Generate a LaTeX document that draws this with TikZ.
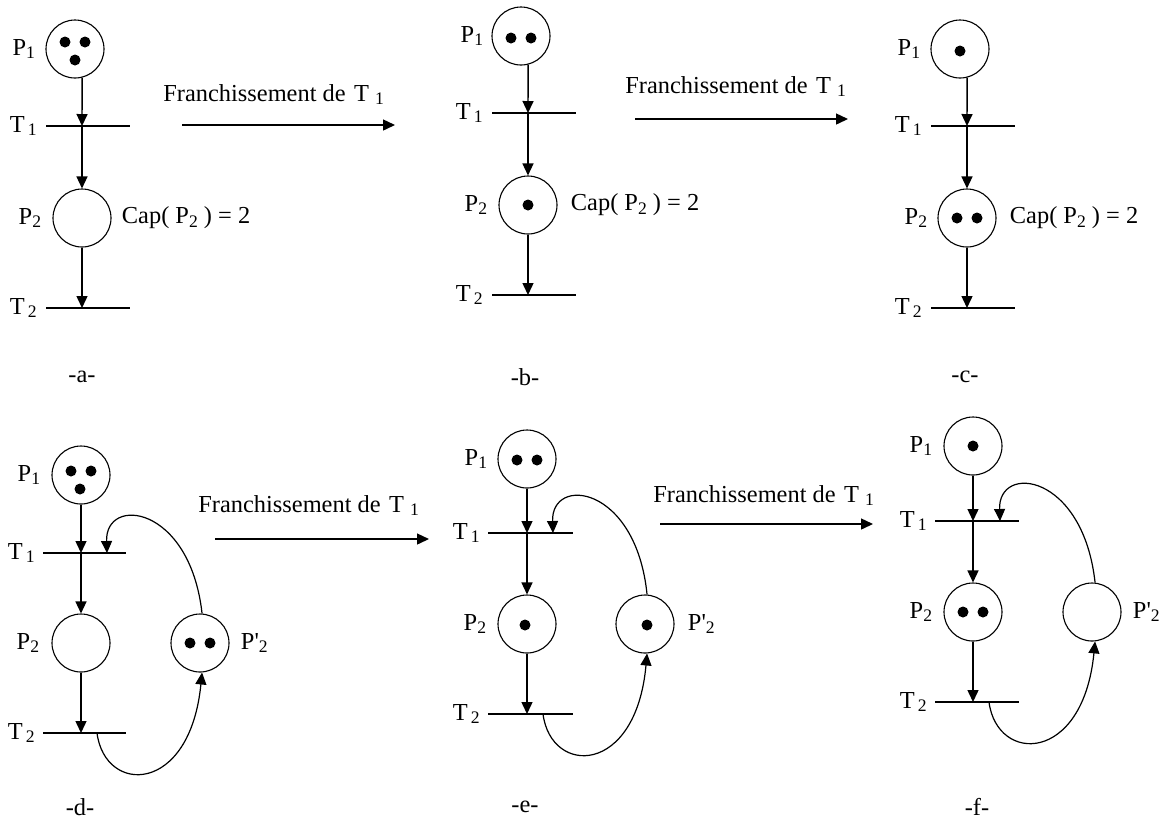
\documentclass[tikz,border=0pt]{standalone}
\usepackage{fontspec}
\setmainfont{Liberation Serif}
\usetikzlibrary{arrows.meta}
\newcommand\sub[1]{\raisebox{-1.8pt}{\fontsize{8.8}{9}\selectfont #1}}
\newcommand\Fire{Franchissement de\hspace{0.35em}T\hspace{0.25em}\sub{1}}
\tikzset{
  place/.style={circle, draw, line width=0.55pt, minimum size=29pt, inner sep=0pt},
  tok/.style={circle, fill, inner sep=0pt, minimum size=5.5pt},
  arr/.style={line width=0.7pt, -{Triangle[length=6pt,width=5.5pt]}},
  curvearr/.style={line width=0.6pt, -{Triangle[length=6pt,width=5.5pt]}},
  bar/.style={line width=0.7pt},
  lbl/.style={inner sep=0pt},
}
\begin{document}
\begin{tikzpicture}[x=0.5pt,y=-0.5pt,font=\fontsize{12.2}{14}\selectfont]
\useasboundingbox (0,0) rectangle (1169,827);

% ---------- panel a ----------
\begin{scope}[shift={(82,126)}]
  \coordinate (aT1) at (0,0);
  \coordinate (aT2) at (0,182);
  \node[place] (aP1) at (-7,-77) {};
  \node[place] (aP2) at (0,92) {};
  \node[tok] (aP1k1) at (-17,-84) {};
  \node[tok] (aP1k2) at (3,-84) {};
  \node[tok] (aP1k3) at (-7,-66) {};
  \draw[bar] (aT1) ++(-36,0) -- ++(84,0);
  \draw[bar] (aT2) ++(-36,0) -- ++(84,0);
  \draw[arr] (aP1.-76) -- (aT1);
  \draw[arr] (aT1) -- (aP2);
  \draw[arr] (aP2) -- (aT2);
  \node[lbl,anchor=east] (aP1l) at ([xshift=-5pt]aP1.west) {P\sub{1}};
  \node[lbl,anchor=east] (aP2l) at ([xshift=-5.5pt]aP2.west) {P\sub{2}};
  \node[lbl,anchor=base east] (aT1l) at (-45,6) {T\hspace{0.12em}\sub{1}};
  \node[lbl,anchor=base east] (aT2l) at (-45,188) {T\hspace{0.12em}\sub{2}};
  \node[lbl,anchor=west] (acap) at ([xshift=5pt]aP2.east) {Cap( P\sub{2} ) = 2};
\end{scope}
\node (alab) at (82,377) {-a-};

% ---------- panel b ----------
\begin{scope}[shift={(528,113)}]
  \coordinate (bT1) at (0,0);
  \coordinate (bT2) at (0,182);
  \node[place] (bP1) at (-7,-77) {};
  \node[place] (bP2) at (0,92) {};
  \node[tok] (bP1k1) at (-17,-75) {};
  \node[tok] (bP1k2) at (3,-75) {};
  \node[tok] (bP2k1) at (0,92) {};
  \draw[bar] (bT1) ++(-36,0) -- ++(84,0);
  \draw[bar] (bT2) ++(-36,0) -- ++(84,0);
  \draw[arr] (bP1.-76) -- (bT1);
  \draw[arr] (bT1) -- (bP2);
  \draw[arr] (bP2) -- (bT2);
  \node[lbl,anchor=east] (bP1l) at ([xshift=-4pt]bP1.west) {P\sub{1}};
  \node[lbl,anchor=east] (bP2l) at ([xshift=-5.5pt]bP2.west) {P\sub{2}};
  \node[lbl,anchor=base east] (bT1l) at (-45,6) {T\hspace{0.12em}\sub{1}};
  \node[lbl,anchor=base east] (bT2l) at (-45,188) {T\hspace{0.12em}\sub{2}};
  \node[lbl,anchor=west] (bcap) at ([xshift=6.5pt]bP2.east) {Cap( P\sub{2} ) = 2};
\end{scope}
\node (blab) at (525,377) {-b-};

% ---------- panel c ----------
\begin{scope}[shift={(967,126)}]
  \coordinate (cT1) at (0,0);
  \coordinate (cT2) at (0,182);
  \node[place] (cP1) at (-7,-77) {};
  \node[place] (cP2) at (0,92) {};
  \node[tok] (cP1k1) at (-7,-75) {};
  \node[tok] (cP2k1) at (-10,92) {};
  \node[tok] (cP2k2) at (10,92) {};
  \draw[bar] (cT1) ++(-36,0) -- ++(84,0);
  \draw[bar] (cT2) ++(-36,0) -- ++(84,0);
  \draw[arr] (cP1.-76) -- (cT1);
  \draw[arr] (cT1) -- (cP2);
  \draw[arr] (cP2) -- (cT2);
  \node[lbl,anchor=east] (cP1l) at ([xshift=-5pt]cP1.west) {P\sub{1}};
  \node[lbl,anchor=east] (cP2l) at ([xshift=-5pt]cP2.west) {P\sub{2}};
  \node[lbl,anchor=base east] (cT1l) at (-45,6) {T\hspace{0.12em}\sub{1}};
  \node[lbl,anchor=base east] (cT2l) at (-45,188) {T\hspace{0.12em}\sub{2}};
  \node[lbl,anchor=west] (ccap) at ([xshift=6.5pt]cP2.east) {Cap( P\sub{2} ) = 2};
\end{scope}
\node (clab) at (965,377) {-c-};

% ---------- panel d ----------
\begin{scope}[shift={(81,553)}]
  \coordinate (dT1) at (0,0);
  \coordinate (dT2) at (0,180);
  \coordinate (dT1b) at (26,0);
  \coordinate (dT2b) at (16,180);
  \node[place] (dP1) at (0,-78) {};
  \node[place] (dP2) at (0,90) {};
  \node[place] (dPP) at (119,90) {};
  \node[tok] (dP1k1) at (-10,-82) {};
  \node[tok] (dP1k2) at (10,-82) {};
  \node[tok] (dP1k3) at (-1,-64) {};
  \node[tok] (dPPk1) at (109,90) {};
  \node[tok] (dPPk2) at (129,90) {};
  \draw[bar] (dT1) ++(-38,0) -- ++(83,0);
  \draw[bar] (dT2) ++(-38,0) -- ++(83,0);
  \draw[arr] (dP1) -- (dT1);
  \draw[arr] (dT1) -- (dP2);
  \draw[arr] (dP2) -- (dT2);
  \draw[curvearr] (dT2b) .. controls (24,242) and (109,242) .. (dPP.-86);
  \draw[curvearr] (dPP.86) .. controls (109,-48) and (24,-58) .. (dT1b);
  \node[lbl,anchor=east] (dP1l) at ([xshift=-5.5pt]dP1.west) {P\sub{1}};
  \node[lbl,anchor=east] (dP2l) at ([xshift=-6pt]dP2.west) {P\sub{2}};
  \node[lbl,anchor=west] (dPPl) at ([xshift=5.5pt]dPP.east) {P\textquotesingle\sub{2}};
  \node[lbl,anchor=base east] (dT1l) at (-46,6) {T\hspace{0.12em}\sub{1}};
  \node[lbl,anchor=base east] (dT2l) at (-46,186) {T\hspace{0.12em}\sub{2}};
\end{scope}
\node (dlab) at (80,807) {-d-};

% ---------- panel e ----------
\begin{scope}[shift={(527,533)}]
  \coordinate (eT1) at (0,0);
  \coordinate (eT2) at (0,181);
  \coordinate (eT1b) at (26,0);
  \coordinate (eT2b) at (16,181);
  \node[place] (eP1) at (0,-74) {};
  \node[place] (eP2) at (0,91) {};
  \node[place] (ePP) at (118,91) {};
  \node[tok] (eP1k1) at (-10,-73) {};
  \node[tok] (eP1k2) at (10,-73) {};
  \node[tok] (eP2k1) at (-2,92) {};
  \node[tok] (ePPk1) at (120,92) {};
  \draw[bar] (eT1) ++(-39,0) -- ++(85,0);
  \draw[bar] (eT2) ++(-39,0) -- ++(85,0);
  \draw[arr] (eP1) -- (eT1);
  \draw[arr] (eT1) -- (eP2);
  \draw[arr] (eP2) -- (eT2);
  \draw[curvearr] (eT2b) .. controls (24,243) and (109,243) .. (ePP.-86);
  \draw[curvearr] (ePP.86) .. controls (109,-48) and (24,-58) .. (eT1b);
  \node[lbl,anchor=east] (eP1l) at ([xshift=-5pt]eP1.west) {P\sub{1}};
  \node[lbl,anchor=east] (eP2l) at ([xshift=-5.5pt]eP2.west) {P\sub{2}};
  \node[lbl,anchor=west] (ePPl) at ([xshift=6.5pt]ePP.east) {P\textquotesingle\sub{2}};
  \node[lbl,anchor=base east] (eT1l) at (-47,6) {T\hspace{0.12em}\sub{1}};
  \node[lbl,anchor=base east] (eT2l) at (-47,187) {T\hspace{0.12em}\sub{2}};
\end{scope}
\node (elab) at (525,807) {-e-};

% ---------- panel f ----------
\begin{scope}[shift={(973,521)}]
  \coordinate (fT1) at (0,0);
  \coordinate (fT2) at (0,181);
  \coordinate (fT1b) at (27,0);
  \coordinate (fT2b) at (16,181);
  \node[place] (fP1) at (0,-75) {};
  \node[place] (fP2) at (0,91) {};
  \node[place] (fPP) at (119,91) {};
  \node[tok] (fP1k1) at (0,-75) {};
  \node[tok] (fP2k1) at (-10,91) {};
  \node[tok] (fP2k2) at (10,91) {};
  \draw[bar] (fT1) ++(-38,0) -- ++(84,0);
  \draw[bar] (fT2) ++(-38,0) -- ++(84,0);
  \draw[arr] (fP1) -- (fT1);
  \draw[arr] (fT1) -- (fP2);
  \draw[arr] (fP2) -- (fT2);
  \draw[curvearr] (fT2b) .. controls (24,243) and (110,243) .. (fPP.-84);
  \draw[curvearr] (fPP.84) .. controls (110,-48) and (25,-58) .. (fT1b);
  \node[lbl,anchor=east] (fP1l) at ([xshift=-5.5pt]fP1.west) {P\sub{1}};
  \node[lbl,anchor=east] (fP2l) at ([xshift=-5.5pt]fP2.west) {P\sub{2}};
  \node[lbl,anchor=west] (fPPl) at ([xshift=5.5pt]fPP.east) {P\textquotesingle\sub{2}};
  \node[lbl,anchor=base east] (fT1l) at (-46,6) {T\hspace{0.12em}\sub{1}};
  \node[lbl,anchor=base east] (fT2l) at (-46,187) {T\hspace{0.12em}\sub{2}};
\end{scope}
\node (flab) at (977,807) {-f-};

% ---------- firing arrows ----------
\coordinate (fab1) at (182,125);
\coordinate (fab2) at (395,125);
\node[lbl,anchor=base west] (fabt) at (163,101) {\Fire};
\draw[arr] (fab1) -- (fab2);

\coordinate (fbc1) at (635,119);
\coordinate (fbc2) at (848,119);
\node[lbl,anchor=base west] (fbct) at (625,93) {\Fire};
\draw[arr] (fbc1) -- (fbc2);

\coordinate (fde1) at (215,539);
\coordinate (fde2) at (429,539);
\node[lbl,anchor=base west] (fdet) at (198,512) {\Fire};
\draw[arr] (fde1) -- (fde2);

\coordinate (fef1) at (660,524);
\coordinate (fef2) at (873,524);
\node[lbl,anchor=base west] (feft) at (653,502) {\Fire};
\draw[arr] (fef1) -- (fef2);
\end{tikzpicture}
\end{document}
